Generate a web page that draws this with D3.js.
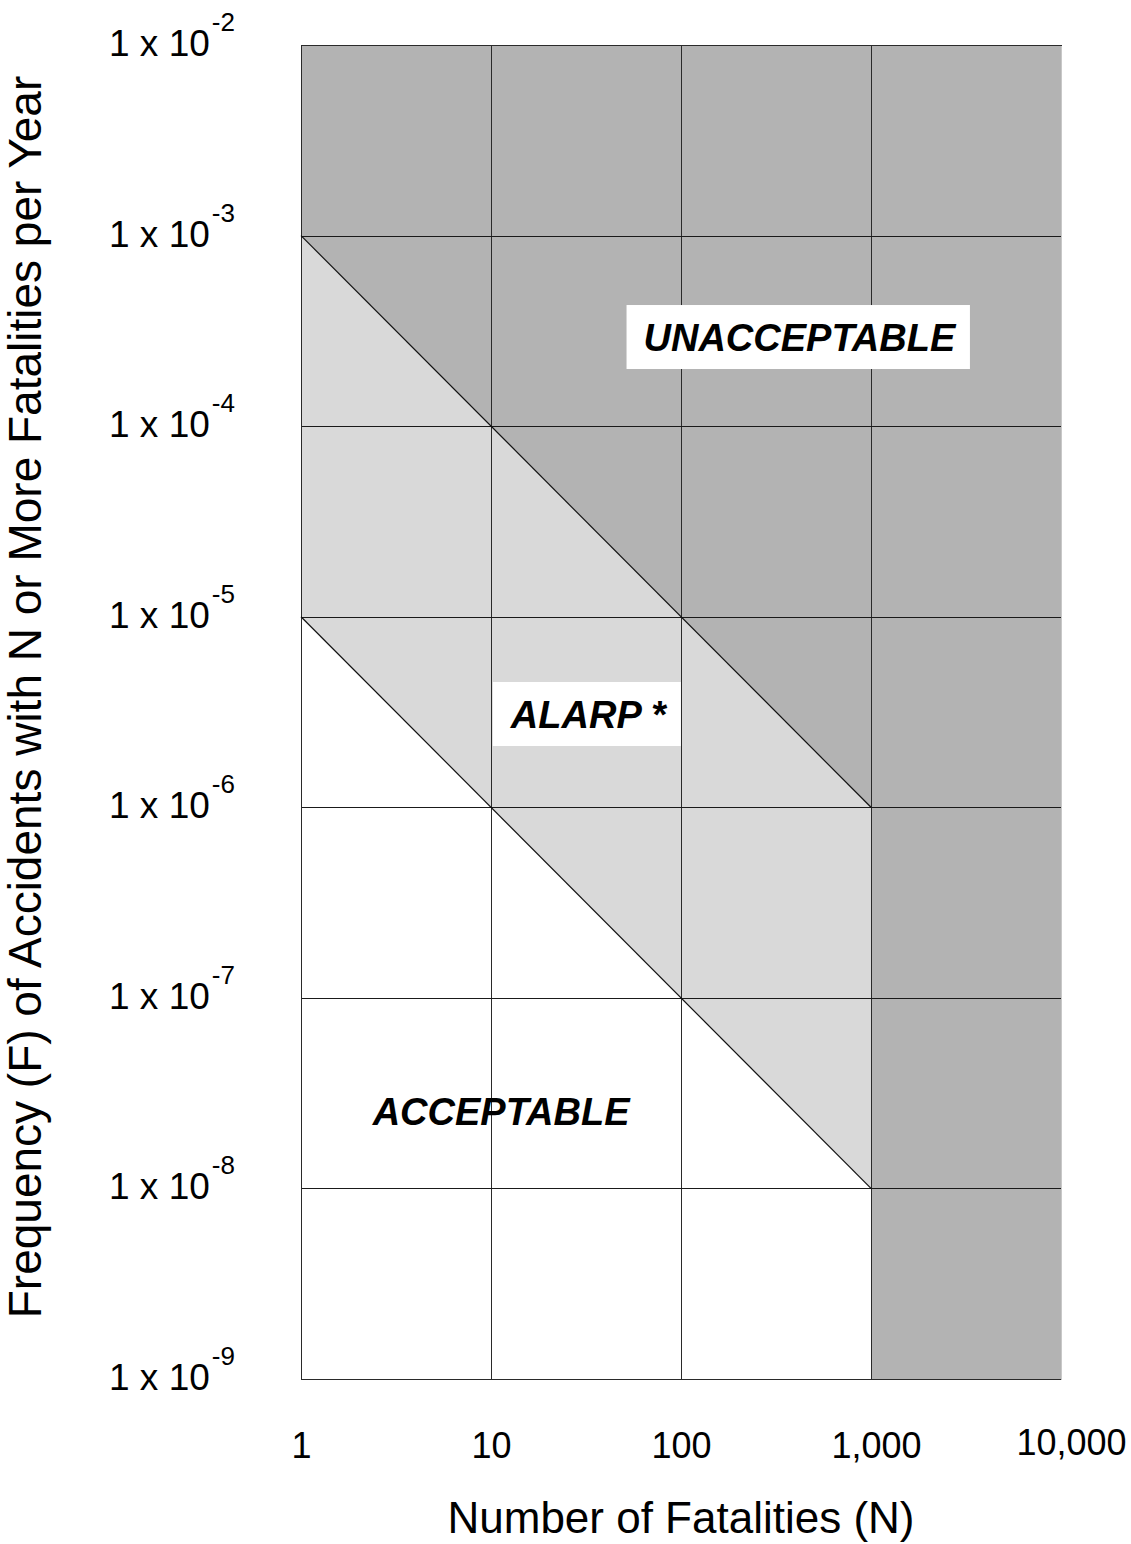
<!DOCTYPE html>
<html>
<head>
<meta charset="utf-8">
<script src="https://cdn.jsdelivr.net/npm/d3@7/dist/d3.min.js"></script>
<style>
  body { margin: 0; background: #fff; }
  svg text { font-family: "Liberation Sans", Arial, sans-serif; fill: #000; }
</style>
</head>
<body>
<svg id="chart" width="1131" height="1544"></svg>
<script>
// Data
const nTicks = [1, 10, 100, 1000, 10000];
const fExponents = [-2, -3, -4, -5, -6, -7, -8, -9];

// region boundaries, [N, F]
const unacceptableZone = [[1, 1e-2], [1e4, 1e-2], [1e4, 1e-9], [1e3, 1e-9], [1e3, 1e-6], [1, 1e-3]];
const alarpZone = [[1, 1e-3], [1e3, 1e-6], [1e3, 1e-8], [1, 1e-5]];
const upperCriterion = [[1, 1e-3], [1e3, 1e-6]];
const lowerCriterion = [[1, 1e-5], [1e3, 1e-8]];

// zone labels placed at [N, F] (text centre)
const zoneLabels = [
  { text: "UNACCEPTABLE", n: 420, f: 2.9e-4, box: true },
  { text: "ALARP *", n: 32.5, f: 3.05e-6, box: true },
  { text: "ACCEPTABLE", n: 11.3, f: 2.52e-8, box: false }
];

const svg = d3.select("#chart");
const margin = { top: 45, left: 301, right: 70, bottom: 165 };
const width = 1131 - margin.left - margin.right;
const height = 1544 - margin.top - margin.bottom;

const x = d3.scaleLog().domain([1, 1e4]).range([margin.left, margin.left + width]);
const y = d3.scaleLog().domain([1e-2, 1e-9]).range([margin.top, margin.top + height]);

const line = d3.line().x(d => x(d[0])).y(d => y(d[1]));
const poly = pts => line(pts) + "Z";

// zones
svg.append("path").attr("d", poly(unacceptableZone)).attr("fill", "#b3b3b3");
svg.append("path").attr("d", poly(alarpZone)).attr("fill", "#d9d9d9");

// grid
const grid = svg.append("g").attr("stroke-width", 1).attr("shape-rendering", "crispEdges");
grid.selectAll(".v")
  .data(nTicks.slice(1, -1))
  .enter()
  .append("line")
  .attr("x1", d => Math.round(x(d)) + 0.5)
  .attr("x2", d => Math.round(x(d)) + 0.5)
  .attr("y1", y(1e-2))
  .attr("y2", y(1e-9))
  .attr("stroke", "#2a2a2a");
grid.selectAll(".h")
  .data(fExponents.slice(1, -1))
  .enter()
  .append("line")
  .attr("x1", x(1))
  .attr("x2", x(1e4))
  .attr("y1", d => Math.round(y(Math.pow(10, d))) + 0.5)
  .attr("y2", d => Math.round(y(Math.pow(10, d))) + 0.5)
  .attr("stroke", "#1a1a1a");

// frame
const x0 = Math.round(x(1)) + 0.5, x1 = Math.round(x(1e4)) + 0.5;
const y0 = Math.round(y(1e-2)) + 0.5, y1 = Math.round(y(1e-9)) + 0.5;
grid.append("path")
  .attr("d", `M${x1},${y0}H${x0}V${y1}H${x1}`)
  .attr("fill", "none")
  .attr("stroke", "#2a2a2a");
grid.append("line")
  .attr("x1", x1).attr("x2", x1).attr("y1", y0).attr("y2", y1)
  .attr("stroke", "#c8c8c8");

// criterion lines
[upperCriterion, lowerCriterion].forEach(c => {
  svg.append("path")
    .attr("d", line(c))
    .attr("fill", "none")
    .attr("stroke", "#111")
    .attr("stroke-width", 1.2);
});

// zone labels
zoneLabels.forEach(l => {
  const g = svg.append("g");
  const base = y(l.f) + 13;
  const t = g.append("text")
    .attr("x", x(l.n))
    .attr("y", base)
    .attr("text-anchor", "middle")
    .style("font-size", "38px")
    .style("font-weight", "bold")
    .style("font-style", "italic")
    .text(l.text);
  if (l.box) {
    const bb = t.node().getBBox();
    g.insert("rect", "text")
      .attr("x", bb.x - 17)
      .attr("y", base - 46)
      .attr("width", bb.width + 30)
      .attr("height", 64)
      .attr("fill", "#fff");
  }
});

// x axis
const xAxis = d3.axisBottom(x)
  .tickValues(nTicks)
  .tickSize(0)
  .tickPadding(0)
  .tickFormat(d3.format(","));
const xAxisG = svg.append("g")
  .attr("transform", `translate(0, ${y(1e-9)})`)
  .call(xAxis);
xAxisG.select(".domain").remove();
xAxisG.selectAll("text")
  .attr("dy", null)
  .attr("y", 79)
  .attr("dx", d => d === 10000 ? 10 : (d === 1000 ? 5 : 0))
  .attr("transform", d => d === 10000 ? "translate(0,-3)" : null)
  .style("font-size", "36px")
  .style("font-family", "'Liberation Sans', Arial, sans-serif")
  .attr("fill", "#000");

// y axis labels with superscripts
const yLabels = svg.append("g").selectAll("text")
  .data(fExponents)
  .enter()
  .append("text")
  .attr("x", 109)
  .attr("y", d => y(Math.pow(10, d)) + 11)
  .style("font-size", "37px");
yLabels.append("tspan").text("1 x 10");
yLabels.append("tspan")
  .attr("dy", -25)
  .attr("dx", 2)
  .style("font-size", "26px")
  .text(d => String(d));

// axis titles
svg.append("text")
  .attr("x", (x(1) + x(1e4)) / 2)
  .attr("y", 1533)
  .attr("text-anchor", "middle")
  .style("font-size", "44px")
  .text("Number of Fatalities (N)");

svg.append("text")
  .attr("transform", `translate(41, 697) rotate(-90)`)
  .attr("text-anchor", "middle")
  .style("font-size", "46px")
  .text("Frequency (F) of Accidents with N or More Fatalities per Year");
</script>
</body>
</html>
